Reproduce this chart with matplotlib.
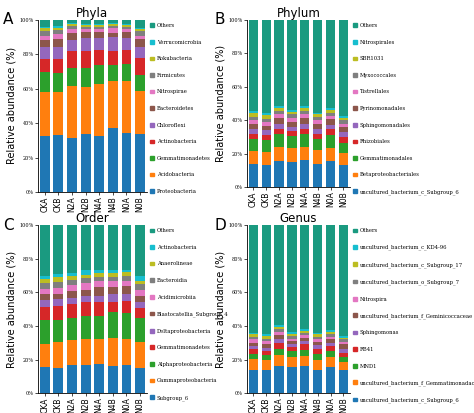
import matplotlib
matplotlib.use("Agg")
import matplotlib.pyplot as plt
from matplotlib.patches import Patch
import numpy as np

samples = ["CKA", "CKB", "N2A", "N2B", "N4A", "N4B", "N0A", "N0B"]

phyla_names = ["Proteobacteria", "Acidobacteria", "Gemmatimonadetes", "Actinobacteria", "Chloroflexi",
               "Bacteroidetes", "Nitrospirae", "Firmicutes", "Rokubacteria", "Verrucomicrobia"]
phyla_vals = [
    [32.5, 33, 31.5, 33.5, 32.5, 37, 34.5, 33.5],
    [25.5, 25, 30, 27.5, 30.5, 27.5, 30, 25],
    [11.5, 11, 10.5, 11, 10.5, 9, 10, 9.5],
    [8, 8, 10, 10, 9, 8.5, 8, 10],
    [6.5, 7.5, 6.5, 7.5, 7, 8, 7, 6.5],
    [4.5, 4.5, 4, 3.5, 3.5, 2.5, 3.5, 4.5],
    [2, 2.5, 2, 1.5, 1.5, 2.5, 1.5, 1.5],
    [3, 2.5, 2, 1.5, 1.5, 1.5, 1.5, 3],
    [1.5, 1.5, 1, 1, 1, 1, 1, 1],
    [0.8, 0.8, 0.8, 0.8, 0.8, 0.8, 0.8, 0.8],
]

phylum_names = ["uncultured_bacterium_c_Subgroup_6", "Betaproteobacteriales", "Gemmatimonadales", "Rhizobiales",
                "Sphingomonadales", "Pyrinomonadales", "Tistrellales", "Myxococcales", "SBR1031", "Nitrospirales"]
phylum_vals = [
    [14, 13.5, 15.5, 15, 16, 14, 15.5, 13.5],
    [7.5, 7.5, 8.5, 8.5, 8, 8, 8, 7],
    [7.5, 7, 7.5, 7, 8, 6.5, 7.5, 6],
    [3, 3, 3, 3, 3, 3.5, 3.5, 3.5],
    [3, 3, 3, 2.5, 3, 3, 2.5, 3],
    [2.5, 2.5, 4, 3, 3.5, 2.5, 3.5, 3],
    [2.5, 2.5, 2, 2.5, 2, 2.5, 2, 2],
    [2, 2, 2, 2, 2, 2, 2, 2],
    [2, 2, 1.5, 1.5, 1.5, 1.5, 1.5, 1.5],
    [1.5, 1.5, 1.5, 1, 1.5, 1, 1.5, 1],
]

order_names = ["Subgroup_6", "Gammaproteobacteria", "Alphaproteobacteria", "Gemmatimonadetes", "Deltaproteobacteria",
               "Blastocatellia_Subgroup_4", "Acidimicrobiia", "Bacteroidia", "Anaerolineae", "Actinobacteria"]
order_vals = [
    [15.5, 15, 17, 16.5, 17.5, 16, 17, 15],
    [14, 15.5, 14.5, 15.5, 14.5, 17, 15.5, 15.5],
    [14, 13, 13, 14, 14, 15, 15, 14],
    [8, 8.5, 8.5, 8, 8, 6.5, 7.5, 6],
    [4, 4, 3.5, 4, 4, 4.5, 4, 4],
    [3.5, 3, 4.5, 3.5, 5, 4, 4.5, 3.5],
    [3, 3.5, 3.5, 4, 3.5, 3.5, 3.5, 3.5],
    [3.5, 3.5, 3, 3, 2.5, 2.5, 2.5, 3.5],
    [2.5, 3, 2, 2, 2.5, 2.5, 2.5, 2],
    [2, 2, 2, 2.5, 2, 1.5, 1.5, 3],
]

genus_names = ["uncultured_bacterium_c_Subgroup_6", "uncultured_bacterium_f_Gemmatimonadaceae", "MND1", "RB41",
               "Sphingomonas", "uncultured_bacterium_f_Geminicoccaceae", "Nitrospira",
               "uncultured_bacterium_o_Subgroup_7", "uncultured_bacterium_c_Subgroup_17", "uncultured_bacterium_c_KD4-96"]
genus_vals = [
    [14, 13.5, 16, 15.5, 16, 14, 15.5, 13.5],
    [6.5, 6.5, 6.5, 6, 6, 6, 6, 5],
    [3, 3, 4, 3.5, 3.5, 3.5, 3.5, 3],
    [2.5, 2, 3.5, 2.5, 3.5, 3, 3, 2.5],
    [2, 2, 2, 1.5, 2, 2, 2, 2.5],
    [2, 2, 2.5, 2, 2, 2, 2, 2.5],
    [2, 2, 2, 1.5, 1.5, 1.5, 1.5, 1.5],
    [1.5, 1.5, 1.5, 1.5, 1.5, 1.5, 1.5, 1.5],
    [1.5, 1.5, 1.5, 1, 1, 1.5, 1.5, 1],
    [1, 1, 1, 1.5, 1, 1, 1, 1],
]

colors = ["#1f77b4", "#ff7f0e", "#2ca02c", "#d62728", "#9467bd", "#8c564b",
          "#e377c2", "#7f7f7f", "#bcbd22", "#17becf", "#1a9a80"]

fig = plt.figure(figsize=(4.74, 4.13), dpi=100)
panels = [
    ("A", "Phyla", phyla_names, phyla_vals, [0.080, 0.535, 0.230, 0.417]),
    ("B", "Phylum", phylum_names, phylum_vals, [0.521, 0.547, 0.217, 0.405]),
    ("C", "Order", order_names, order_vals, [0.080, 0.048, 0.230, 0.407]),
    ("D", "Genus", genus_names, genus_vals, [0.521, 0.048, 0.217, 0.407]),
]
x = np.arange(len(samples))
for letter, title, names, vals, rect in panels:
    ax = fig.add_axes(rect)
    vals = np.array(vals, dtype=float)
    others = 100 - vals.sum(axis=0)
    allv = list(vals) + [others]
    alln = names + ["Others"]
    bottom = np.zeros(len(samples))
    for i, v in enumerate(allv):
        ax.bar(x, v, bottom=bottom, width=0.72, color=colors[i])
        bottom += v
    ax.set_xlim(-0.5, len(samples) - 0.5)
    ax.set_ylim(0, 100)
    ax.set_xticks(x)
    ax.set_xticklabels(samples, rotation=90, fontsize=5.5)
    ax.set_yticks([0, 20, 40, 60, 80, 100])
    ax.set_yticklabels([f"{t}%" for t in [0, 20, 40, 60, 80, 100]], fontsize=3.5, family="serif")
    ax.tick_params(axis="both", length=2, width=0.5, pad=1)
    for s in ["top", "right"]:
        ax.spines[s].set_visible(False)
    for s in ["left", "bottom"]:
        ax.spines[s].set_linewidth(0.6)
    ax.set_ylabel("Relative abundance (%)", fontsize=7, labelpad=2)
    ax.set_title(title, fontsize=8.5, pad=2)
    ax.text(-0.32, 1.0, letter, transform=ax.transAxes, fontsize=11, va="center", ha="left")
    handles = [Patch(color=colors[i], label=alln[i]) for i in range(len(alln))][::-1]
    ax.legend(handles=handles, loc="upper left", bbox_to_anchor=(1.0, 1.0), frameon=False,
              prop={"family": "serif", "size": 3.8}, handlelength=0.7, handleheight=0.7,
              labelspacing=2.2, handletextpad=0.6, borderaxespad=0.2)

fig.savefig("out.png", dpi=100)
